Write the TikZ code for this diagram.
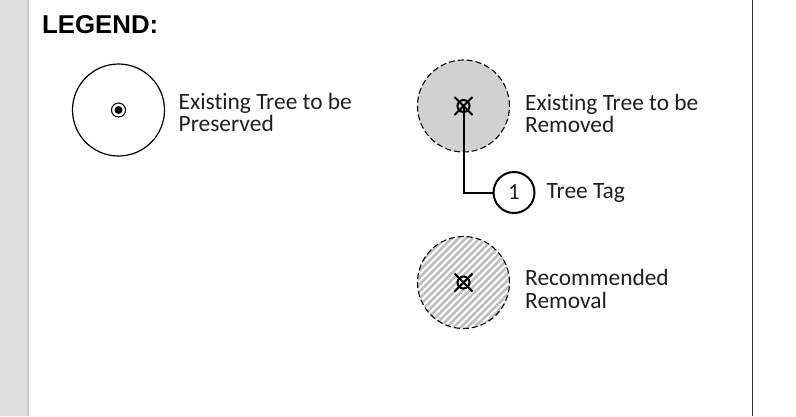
\documentclass[tikz,border=0pt]{standalone}
\usepackage{fontspec}
\usetikzlibrary{calc}
\setmainfont{Carlito}[Ligatures=NoCommon]
\newfontfamily\headfont{Liberation Sans}
\begin{document}
\begin{tikzpicture}[x=1pt,y=-1pt,
  treeline/.style={draw=black,line width=1.2pt},
  dashline/.style={draw=black,line width=1.1pt,dash pattern=on 6pt off 3pt},
  bigtree/.style={circle,inner sep=0pt,minimum size=92pt},
  label/.style={anchor=base west,inner sep=0pt,align=left,text=black!88,font=\fontsize{23.4}{22.7}\selectfont},
  tagline/.style={draw=black,line width=2pt},
  xring/.style={circle,draw=black,line width=2pt,inner sep=0pt,minimum size=12pt},
  hatch/.style={draw=black!25,line width=2.5pt}]
  % page frame
  \useasboundingbox (0,0) rectangle (796,416);
  \fill[white] (0,0) rectangle (796,416);
  \fill[black!13] (0,0) rectangle (27,416);
  \fill[black!20] (27,0) rectangle (29,416);
  \fill[black!80] (751.8,0) rectangle (753.3,416);

  % heading
  \node[anchor=base west,inner sep=0pt,font=\headfont\bfseries\fontsize{25.8}{25.8}\selectfont] (head) at (42,33.3) {LEGEND:};

  % tree to be preserved
  \node[bigtree,treeline] (pres) at (118.5,110) {};
  \node[circle,draw=black,line width=1.1pt,inner sep=0pt,minimum size=14pt] (presring) at (pres.center) {};
  \fill[black] (presring.center) circle (4);
  \node[label] (prestxt) at (178.5,131.8) {Existing Tree to be\\Preserved};

  % tree to be removed
  \node[bigtree,dashline,fill=black!18] (rem) at (463.5,106) {};
  \node[xring] (remx) at (rem.center) {};
  \draw[black,line width=2pt] ($(remx.center)+(-9,-9)$) -- ($(remx.center)+(9,9)$)
                               ($(remx.center)+(-9,9)$) -- ($(remx.center)+(9,-9)$);
  \node[label] (remtxt) at (525,132.7) {Existing Tree to be\\Removed};

  % tree tag
  \node[circle,draw=black,line width=2pt,inner sep=0pt,minimum size=41pt,text=black!88,font=\fontsize{23}{23}\selectfont] (tag) at (514,192.5) {1};
  \draw[tagline] (remx.center) |- (tag.west);
  \node[label] (tagtxt) at (546.5,198) {Tree Tag};

  % recommended removal
  \begin{scope}
    \clip (463.5,282.5) circle (46);
    \foreach \i in {-112,-105,...,112}
      \draw[hatch] (463.5+\i-60,282.5+60) -- (463.5+\i+60,282.5-60);
  \end{scope}
  \node[bigtree,dashline] (rec) at (463.5,282.5) {};
  \node[xring] (recx) at (rec.center) {};
  \draw[black,line width=2pt] ($(recx.center)+(-9,-9)$) -- ($(recx.center)+(9,9)$)
                               ($(recx.center)+(-9,9)$) -- ($(recx.center)+(9,-9)$);
  \node[label] (rectxt) at (525,308.6) {Recommended\\Removal};
\end{tikzpicture}
\end{document}
